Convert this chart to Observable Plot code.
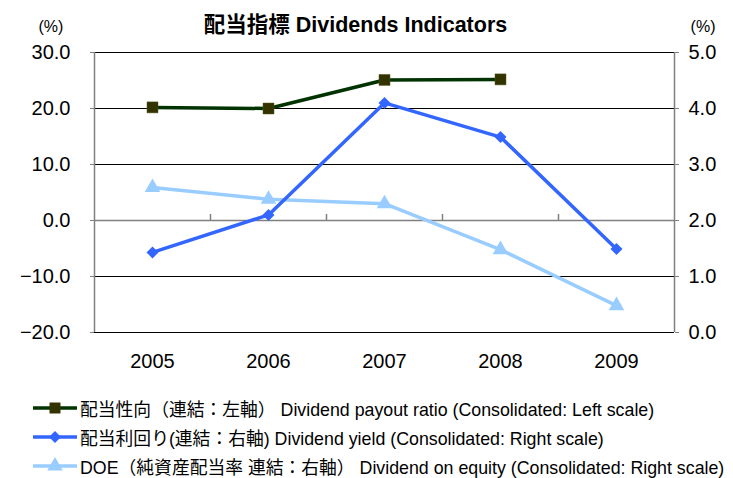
<!DOCTYPE html>
<html>
<head>
<meta charset="utf-8">
<script src="https://cdn.jsdelivr.net/npm/d3@7"></script>
<script src="https://cdn.jsdelivr.net/npm/@observablehq/plot@0.6"></script>
<style>
  html, body { margin: 0; padding: 0; background: #fff; }
  body { width: 733px; height: 478px; overflow: hidden; font-family: "Liberation Sans", "Noto Sans CJK JP", sans-serif; }
  #legend { position: absolute; left: 33px; top: 393px; font-size: 17.8px; color: #000; }
  .row { display: flex; align-items: center; height: 29px; white-space: pre; }
  .row svg { margin-right: 2px; }
</style>
</head>
<body>
<div id="chart"></div>
<div id="legend"></div>
<script>
// ---- data ----
const years = [2005, 2006, 2007, 2008, 2009];
const payoutRatio = [20.2, 20.0, 25.1, 25.2, null];      // left scale (%)
const dividendYield = [1.43, 2.1, 4.1, 3.49, 1.49];       // right scale (%)
const doe = [2.59, 2.38, 2.3, 1.48, 0.48];                // right scale (%)
const leftTicks = [-20, -10, 0, 10, 20, 30];
const rightTicks = [0, 1, 2, 3, 4, 5];
const title = "配当指標 Dividends Indicators";
const unitLabel = "(%)";
const seriesNames = [
  "配当性向（連結：左軸） Dividend payout ratio (Consolidated: Left scale)",
  "配当利回り(連結：右軸) Dividend yield (Consolidated: Right scale)",
  "DOE（純資産配当率 連結：右軸） Dividend on equity (Consolidated: Right scale)"
];
const colors = ["#003300", "#3366FF", "#99CCFF"];
const markerFill = ["#333300", "#3366FF", "#99CCFF"];
const symbols = ["square", "diamond2", "triangle"];
const markerR = [6.2, 5.4, 5.8];

// right scale [0,5] mapped onto left scale [-20,30]
const toLeft = r => r * 10 - 20;
const fromLeft = l => (l + 20) / 10;

const payoutData = years.map((x, i) => ({x, v: payoutRatio[i]})).filter(d => d.v != null);
const yieldData = years.map((x, i) => ({x, v: toLeft(dividendYield[i])}));
const doeData = years.map((x, i) => ({x, v: toLeft(doe[i])}));
const boundaries = years.slice(0, -1).map(y => y + 0.5);
const font = '"Liberation Sans", "Noto Sans CJK JP", sans-serif';

const chart = Plot.plot({
  width: 733,
  height: 384,
  marginTop: 52,
  marginBottom: 52,
  marginLeft: 94,
  marginRight: 59,
  style: {fontFamily: font, fontSize: "20px", color: "#000", background: "#fff"},
  x: {type: "linear", domain: [years[0] - 0.5, years[years.length - 1] + 0.5]},
  y: {domain: [leftTicks[0], leftTicks[leftTicks.length - 1]]},
  marks: [
    Plot.ruleY(leftTicks.filter(d => d !== 0), {stroke: "#000", strokeWidth: 1}),
    Plot.ruleY([0], {stroke: "#808080", strokeWidth: 1.5}),
    Plot.ruleX(boundaries, {x: d => d, y1: 0, y2: 0, insetTop: -6, stroke: "#808080", strokeWidth: 1.5}),
    Plot.ruleX([years[0] - 0.5, years[years.length - 1] + 0.5], {stroke: "#808080", strokeWidth: 1.5}),
    Plot.axisY(leftTicks, {anchor: "left", tickSize: 4, tickPadding: 20, tickFormat: d => d.toFixed(1).replace("-", "−"), stroke: "#808080", fontSize: 20, label: null}),
    Plot.axisY(rightTicks.map(toLeft), {anchor: "right", tickSize: 4, tickPadding: 10, tickFormat: d => fromLeft(d).toFixed(1), stroke: "#808080", fontSize: 20, label: null}),
    Plot.axisX(years, {anchor: "bottom", tickSize: 0, tickPadding: 21, tickFormat: d => String(d), fontSize: 20, label: null}),
    Plot.line(doeData, {x: "x", y: "v", stroke: colors[2], strokeWidth: 3.5}),
    Plot.dot(doeData, {x: "x", y: "v", symbol: symbols[2], fill: markerFill[2], r: markerR[2]}),
    Plot.line(yieldData, {x: "x", y: "v", stroke: colors[1], strokeWidth: 3.5}),
    Plot.dot(yieldData, {x: "x", y: "v", symbol: symbols[1], fill: markerFill[1], r: markerR[1]}),
    Plot.line(payoutData, {x: "x", y: "v", stroke: colors[0], strokeWidth: 3.5}),
    Plot.dot(payoutData, {x: "x", y: "v", symbol: symbols[0], fill: markerFill[0], stroke: "#555522", strokeWidth: 0.5, r: markerR[0]}),
    Plot.text([title], {frameAnchor: "top", dx: -29, dy: -36, fontWeight: "bold", fontSize: 21.5}),
    Plot.text([unitLabel], {frameAnchor: "top-left", dx: -56, dy: -32, fontSize: 16}),
    Plot.text([unitLabel], {frameAnchor: "top-right", dx: 41, dy: -32, fontSize: 16})
  ]
});
document.getElementById("chart").appendChild(chart);

// legend
const legend = d3.select("#legend");
seriesNames.forEach((name, i) => {
  const row = legend.append("div").attr("class", "row");
  const svg = row.append("svg").attr("width", 45).attr("height", 20);
  svg.append("line").attr("x1", 0).attr("x2", 44).attr("y1", 10).attr("y2", 10)
    .attr("stroke", colors[i]).attr("stroke-width", 3.5);
  const symType = [d3.symbolSquare, d3.symbolDiamond2, d3.symbolTriangle][i];
  svg.append("path").attr("transform", "translate(22,10)")
    .attr("d", d3.symbol(symType, markerR[i] * markerR[i] * Math.PI)())
    .attr("fill", markerFill[i]);
  row.append("span").text(name);
});
</script>
</body>
</html>
